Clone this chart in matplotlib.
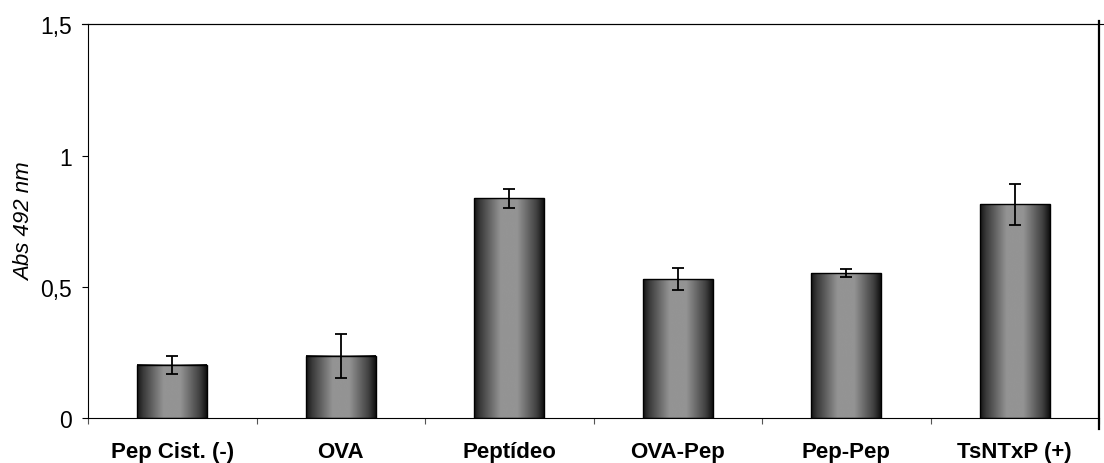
#!/usr/bin/env python3
"""
Absorbance bar chart (Abs 492 nm) with gradient-shaded bars and error bars.
"""

import matplotlib
matplotlib.use("Agg")
import matplotlib.pyplot as plt
import numpy as np
from matplotlib.ticker import FixedLocator, FuncFormatter

# data
categories = ["Pep Cist. (-)", "OVA", "Peptídeo", "OVA-Pep", "Pep-Pep", "TsNTxP (+)"]
absorbance = [0.203, 0.237, 0.837, 0.528, 0.552, 0.814]
errors = [0.034, 0.084, 0.036, 0.042, 0.016, 0.079]
y_ticks = [0, 0.5, 1, 1.5]

plt.rcParams['font.family'] = ['Liberation Sans', 'DejaVu Sans']

fig = plt.figure(figsize=(11.04, 4.64), dpi=100)
ax = fig.add_axes([88 / 1104, 1 - 419 / 464, (1099 - 88) / 1104, (419 - 25.3) / 464])

x = np.arange(len(categories))
width = 0.415

# horizontal gradient: dark edges, light centre
pos = np.linspace(0, 1, 200)
shade = np.interp(pos, [0, 0.08, 0.38, 0.62, 0.9, 1.0], [0.08, 0.22, 0.58, 0.58, 0.25, 0.06])
grad = shade[np.newaxis, :]

bars = ax.bar(x, absorbance, width=width, facecolor='none', edgecolor='black',
              linewidth=1.0, zorder=3)
for rect in bars:
    x0 = rect.get_x()
    ax.imshow(grad, extent=[x0, x0 + rect.get_width(), 0, rect.get_height()],
              aspect='auto', cmap='gray', vmin=0, vmax=1, interpolation='bicubic',
              zorder=2)

ax.errorbar(x, absorbance, yerr=errors, fmt='none', ecolor='black',
            elinewidth=1.3, capsize=4.5, capthick=1.3, zorder=4)

ax.set_xlim(-0.5, len(categories) - 0.5)
ax.set_ylim(0, 1.5)

# y axis
ax.set_yticks(y_ticks)
ax.yaxis.set_major_formatter(FuncFormatter(lambda v, p: f"{v:g}".replace('.', ',')))
ax.tick_params(axis='y', direction='out', length=4.5, width=0.8, pad=7, labelsize=16.5)
ax.set_ylabel('Abs 492 nm', fontsize=16, style='italic', labelpad=4)

# x axis: labels at centres, ticks at category boundaries
ax.set_xticks(x)
ax.set_xticklabels(categories, fontsize=16, fontweight='bold')
ax.tick_params(axis='x', which='major', length=0, pad=16.5)
ax.xaxis.set_minor_locator(FixedLocator(np.arange(-0.5, len(categories), 1.0)))
ax.tick_params(axis='x', which='minor', direction='out', length=4.5, width=0.8, color='#555555')

for side in ['left', 'bottom', 'top']:
    ax.spines[side].set_linewidth(0.8)
ax.spines['right'].set_visible(False)

# top line runs on to the figure edge, right line is heavier and overshoots
ax.plot([-0.006, 1.01], [1, 1], transform=ax.transAxes, color='black',
        linewidth=0.8, clip_on=False, zorder=5)
ax.plot([1, 1], [-0.028, 1.008], transform=ax.transAxes, color='black',
        linewidth=1.6, clip_on=False, zorder=5)

fig.savefig('out.png', dpi=100)
